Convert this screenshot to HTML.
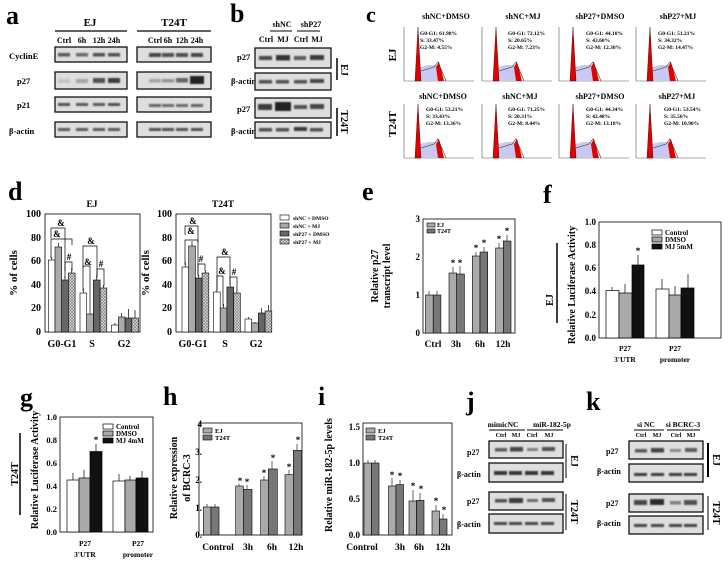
<!DOCTYPE html>
<html><head><meta charset="utf-8"><style>
html,body{margin:0;padding:0;background:#fff;}
svg{display:block;font-family:"Liberation Serif",serif;font-weight:bold;}
</style></head><body>
<svg width="728" height="561" viewBox="0 0 728 561" xmlns="http://www.w3.org/2000/svg">
<defs>
<filter id="bl" x="-20%" y="-50%" width="140%" height="200%"><feGaussianBlur stdDeviation="0.8"/></filter>
<pattern id="hatch" width="3" height="3" patternUnits="userSpaceOnUse"><rect width="3" height="3" fill="#ddd"/><path d="M0,0 L3,3 M3,0 L0,3" stroke="#777" stroke-width="0.6"/></pattern>
<g id="hist">
<line x1="0" y1="0" x2="0" y2="54" stroke="#555" stroke-width="0.6"/>
<line x1="0" y1="54" x2="70" y2="54" stroke="#555" stroke-width="0.6"/>
<polygon points="12,54 16,40 24,38 32,38 36,44 40,54" fill="#c8c8f0"/>
<polygon points="11,54 14,0 17,54" fill="#e00000" stroke="#300" stroke-width="0.4"/>
<polygon points="32,40 35,35 38,46 40,54 34,54" fill="#e00000"/>
<polyline points="17,44 30,40 34,35 37,42 42,54" fill="none" stroke="#333" stroke-width="0.6"/>
</g>
</defs>
<rect width="728" height="561" fill="#fff"/>

<!-- Panel a -->
<text x="6" y="24" font-size="26">a</text>
<text x="90" y="26" font-size="11" text-anchor="middle">EJ</text>
<line x1="55" y1="31" x2="127" y2="31" stroke="#000" stroke-width="1.2"/>
<text x="174" y="26" font-size="11" text-anchor="middle">T24T</text>
<line x1="137" y1="31" x2="211" y2="31" stroke="#000" stroke-width="1.2"/>
<g font-size="8" text-anchor="middle">
<text x="64" y="43">Ctrl</text><text x="82" y="43">6h</text><text x="99" y="43">12h</text><text x="114" y="43">24h</text>
<text x="155" y="43">Ctrl</text><text x="168" y="43">6h</text><text x="182" y="43">12h</text><text x="197" y="43">24h</text>
</g>
<g font-size="8.5">
<text x="9" y="59">CyclinE</text><text x="17" y="84">p27</text><text x="17" y="108">p21</text><text x="9" y="134">β-actin</text>
</g>
<g stroke="#111" stroke-width="1.3" fill="#dedede">
<rect x="55" y="47" width="72" height="15"/><rect x="55" y="72" width="72" height="17"/><rect x="55" y="97" width="72" height="15"/><rect x="55" y="122" width="72" height="15"/>
<rect x="137" y="47" width="74" height="15"/><rect x="137" y="72" width="74" height="17"/><rect x="137" y="97" width="74" height="15"/><rect x="137" y="122" width="74" height="15"/>
</g>
<g filter="url(#bl)" fill="#222">
<rect x="58" y="53" width="12" height="3.5" opacity="0.7"/><rect x="76" y="53" width="12" height="3.5" opacity="0.6"/><rect x="93" y="53" width="12" height="3.5" opacity="0.75"/><rect x="108" y="53" width="12" height="3.5" opacity="0.75"/>
<rect x="58" y="79" width="12" height="4" opacity="0.12"/><rect x="76" y="79" width="12" height="4" opacity="0.3"/><rect x="93" y="78" width="12" height="5" opacity="0.75"/><rect x="108" y="78" width="12" height="5" opacity="0.85"/>
<rect x="58" y="103" width="12" height="3" opacity="0.75"/><rect x="76" y="103" width="12" height="3" opacity="0.7"/><rect x="93" y="103" width="12" height="3" opacity="0.7"/><rect x="108" y="103" width="12" height="3" opacity="0.75"/>
<rect x="58" y="128" width="12" height="3" opacity="0.7"/><rect x="76" y="128" width="12" height="3" opacity="0.7"/><rect x="93" y="128" width="12" height="3" opacity="0.7"/><rect x="108" y="128" width="12" height="3" opacity="0.7"/>
<rect x="149" y="53" width="12" height="4" opacity="0.8"/><rect x="162" y="53" width="12" height="4" opacity="0.75"/><rect x="176" y="53" width="12" height="4" opacity="0.75"/><rect x="191" y="53" width="12" height="4" opacity="0.8"/>
<rect x="149" y="79" width="12" height="3.5" opacity="0.3"/><rect x="162" y="79" width="12" height="3.5" opacity="0.4"/><rect x="176" y="78" width="12" height="4.5" opacity="0.65"/><rect x="190" y="76" width="14" height="8" opacity="1"/>
<rect x="149" y="104" width="12" height="3" opacity="0.65"/><rect x="162" y="104" width="12" height="3" opacity="0.6"/><rect x="176" y="104" width="12" height="3" opacity="0.6"/><rect x="191" y="104" width="12" height="3" opacity="0.65"/>
<rect x="149" y="128" width="12" height="3" opacity="0.75"/><rect x="162" y="128" width="12" height="3" opacity="0.75"/><rect x="176" y="128" width="12" height="3" opacity="0.75"/><rect x="191" y="128" width="12" height="3" opacity="0.75"/>
</g>

<!-- Panel b -->
<text x="230" y="22" font-size="26">b</text>
<g font-size="8" text-anchor="middle">
<text x="282" y="27">shNC</text><text x="311" y="27">shP27</text>
<text x="266" y="42">Ctrl</text><text x="283" y="42">MJ</text><text x="301" y="42">Ctrl</text><text x="317" y="42">MJ</text>
</g>
<line x1="270" y1="31" x2="292" y2="31" stroke="#000"/><line x1="297" y1="31" x2="320" y2="31" stroke="#000"/>
<g font-size="8.5"><text x="237" y="60">p27</text><text x="231" y="84">β-actin</text><text x="237" y="112">p27</text><text x="231" y="134">β-actin</text></g>
<g stroke="#111" stroke-width="1.3" fill="#dedede">
<rect x="255" y="48" width="76" height="20"/><rect x="255" y="73" width="76" height="17"/><rect x="255" y="98" width="76" height="20"/><rect x="255" y="122" width="76" height="16"/>
</g>
<g filter="url(#bl)" fill="#222">
<rect x="259" y="56" width="13" height="4" opacity="0.8"/><rect x="276" y="55" width="14" height="5.5" opacity="0.9"/><rect x="294" y="56" width="12" height="4" opacity="0.7"/><rect x="310" y="55" width="14" height="5" opacity="0.85"/>
<rect x="259" y="80" width="13" height="3.5" opacity="0.75"/><rect x="276" y="80" width="13" height="3.5" opacity="0.75"/><rect x="294" y="80" width="13" height="3.5" opacity="0.75"/><rect x="310" y="79" width="14" height="4" opacity="0.8"/>
<rect x="258" y="104" width="14" height="6" opacity="0.85"/><rect x="275" y="102" width="16" height="9" opacity="1"/><rect x="294" y="105" width="13" height="4" opacity="0.75"/><rect x="310" y="104" width="14" height="5" opacity="0.8"/>
<rect x="259" y="128" width="13" height="3.5" opacity="0.75"/><rect x="276" y="128" width="13" height="3.5" opacity="0.75"/><rect x="294" y="127" width="13" height="4" opacity="0.85"/><rect x="310" y="128" width="13" height="3.5" opacity="0.75"/>
</g>
<line x1="337" y1="58" x2="337" y2="80" stroke="#000" stroke-width="1.5"/>
<text x="341" y="70" font-size="10" transform="rotate(90 341 70)" text-anchor="middle">EJ</text>
<line x1="337" y1="108" x2="337" y2="136" stroke="#000" stroke-width="1.5"/>
<text x="341" y="122" font-size="10" transform="rotate(90 341 122)" text-anchor="middle">T24T</text>

<!-- Panel c -->
<text x="366" y="22" font-size="22">c</text>
<g font-size="8" text-anchor="middle">
<text x="446" y="19">shNC+DMSO</text><text x="523" y="19">shNC+MJ</text><text x="600" y="19">shP27+DMSO</text><text x="678" y="19">shP27+MJ</text>
<text x="443" y="99">shNC+DMSO</text><text x="520" y="99">shNC+MJ</text><text x="600" y="99">shP27+DMSO</text><text x="677" y="99">shP27+MJ</text>
</g>
<text x="396" y="55" font-size="11" transform="rotate(-90 396 55)" text-anchor="middle">EJ</text>
<text x="396" y="124" font-size="11" transform="rotate(-90 396 124)" text-anchor="middle">T24T</text>
<use href="#hist" x="404" y="27"/><use href="#hist" x="482" y="27"/><use href="#hist" x="559" y="27"/><use href="#hist" x="636" y="27"/>
<use href="#hist" x="404" y="104"/><use href="#hist" x="482" y="104"/><use href="#hist" x="559" y="104"/><use href="#hist" x="636" y="104"/>
<g font-size="5.5">
<text x="420" y="35">G0-G1:  61.98%</text><text x="420" y="42">S:          33.47%</text><text x="420" y="49">G2-M:    4.55%</text>
<text x="508" y="35">G0-G1:  72.12%</text><text x="508" y="42">S:          20.65%</text><text x="508" y="49">G2-M:    7.23%</text>
<text x="586" y="35">G0-G1:  44.10%</text><text x="586" y="42">S:          43.60%</text><text x="586" y="49">G2-M:    12.30%</text>
<text x="658" y="35">G0-G1:  51.21%</text><text x="658" y="42">S:          34.32%</text><text x="658" y="49">G2-M:    14.47%</text>
<text x="426" y="111">G0-G1:  53.21%</text><text x="426" y="118">S:          33.43%</text><text x="426" y="125">G2-M:    13.36%</text>
<text x="508" y="111">G0-G1:  71.25%</text><text x="508" y="118">S:          20.31%</text><text x="508" y="125">G2-M:    8.44%</text>
<text x="586" y="111">G0-G1:  44.34%</text><text x="586" y="118">S:          42.48%</text><text x="586" y="125">G2-M:    13.18%</text>
<text x="664" y="111">G0-G1:  53.54%</text><text x="664" y="118">S:          35.56%</text><text x="664" y="125">G2-M:    10.90%</text>
</g>

<!-- Panel d -->
<text x="8" y="200" font-size="26">d</text>
<text x="92" y="207" font-size="9.5" text-anchor="middle">EJ</text>
<text x="223" y="207" font-size="9.5" text-anchor="middle">T24T</text>
<g stroke="#000" stroke-width="0.8">
<rect x="45" y="214" width="95" height="118" fill="none"/>
<rect x="176" y="214" width="95" height="118" fill="none"/>
</g>
<g font-size="10" text-anchor="end">
<text x="41" y="217">100</text><text x="41" y="241">80</text><text x="41" y="264">60</text><text x="41" y="288">40</text><text x="41" y="311">20</text><text x="41" y="335">0</text>
<text x="172" y="217">100</text><text x="172" y="241">80</text><text x="172" y="264">60</text><text x="172" y="288">40</text><text x="172" y="311">20</text><text x="172" y="335">0</text>
</g>
<text x="17" y="273" font-size="11" transform="rotate(-90 17 273)" text-anchor="middle">% of cells</text>
<text x="149" y="273" font-size="11" transform="rotate(-90 149 273)" text-anchor="middle">% of cells</text>
<g font-size="10" text-anchor="middle">
<text x="62" y="347">G0-G1</text><text x="92" y="347">S</text><text x="124" y="347">G2</text>
<text x="193" y="347">G0-G1</text><text x="225" y="347">S</text><text x="256" y="347">G2</text>
</g>
<g stroke="#000" stroke-width="0.6">
<rect x="48.3" y="260" width="6.7" height="72" fill="#fff"/><rect x="55" y="247" width="6.7" height="85" fill="#aaa"/><rect x="61.7" y="280" width="6.7" height="52" fill="#666"/><rect x="68.4" y="273" width="6.7" height="59" fill="url(#hatch)"/>
<rect x="80" y="293" width="6.7" height="39" fill="#fff"/><rect x="86.7" y="314" width="6.7" height="18" fill="#aaa"/><rect x="93.4" y="280" width="6.7" height="52" fill="#666"/><rect x="100.1" y="288" width="6.7" height="44" fill="url(#hatch)"/>
<rect x="111.7" y="325" width="6.7" height="7" fill="#fff"/><rect x="118.4" y="317" width="6.7" height="15" fill="#aaa"/><rect x="125.1" y="318" width="6.7" height="14" fill="#666"/><rect x="131.8" y="318" width="6.7" height="14" fill="url(#hatch)"/>
<rect x="182" y="267" width="6.7" height="65" fill="#fff"/><rect x="188.7" y="246" width="6.7" height="86" fill="#aaa"/><rect x="195.4" y="278" width="6.7" height="54" fill="#666"/><rect x="202.1" y="273" width="6.7" height="59" fill="url(#hatch)"/>
<rect x="213.5" y="292" width="6.7" height="40" fill="#fff"/><rect x="220.2" y="308" width="6.7" height="24" fill="#aaa"/><rect x="226.9" y="287" width="6.7" height="45" fill="#666"/><rect x="233.6" y="293" width="6.7" height="39" fill="url(#hatch)"/>
<rect x="245" y="319" width="6.7" height="13" fill="#fff"/><rect x="251.7" y="323" width="6.7" height="9" fill="#aaa"/><rect x="258.4" y="313" width="6.7" height="19" fill="#666"/><rect x="265.1" y="311" width="6.7" height="21" fill="url(#hatch)"/>
</g>
<g fill="none" stroke="#000" stroke-width="0.7">
<path d="M51.6,260 V257 M58.3,247 V243 M65,280 V276 M71.7,273 V268 M83.3,293 V288 M90,314 V312 M96.7,280 V275 M103.4,288 V285 M115,325 V323 M121.7,317 V313 M128.4,318 V309 M135,318 V310"/>
<path d="M185.3,267 V262 M192,246 V241 M198.7,278 V275 M205.4,273 V270 M216.8,292 V289 M223.5,308 V304 M230.2,287 V284 M236.9,293 V290 M248.3,319 V317 M255,323 V322 M261.7,313 V308 M268.4,311 V305"/>
<path d="M51,258 V239 H72 V245"/><path d="M51,238 V228 H65 V278"/><path d="M65,271 V262 H72 V271"/>
<path d="M83,291 V246 H97 V278"/><path d="M83,268 V266 H90 V312"/><path d="M97,276 V269 H104 V286"/>
<path d="M185,265 V240 H198 V243"/><path d="M185,235 V226 H198 V276"/><path d="M198,274 V264 H205 V271"/>
<path d="M217,290 V257 H230 V285"/><path d="M217,289 V276 H223 V306"/><path d="M230,285 V277 H237 V291"/>
</g>
<g font-size="9" text-anchor="middle">
<text x="61" y="226">&amp;</text><text x="57" y="237">&amp;</text><text x="69" y="260">#</text>
<text x="91" y="244">&amp;</text><text x="88" y="265">&amp;</text><text x="101" y="267">#</text>
<text x="193" y="224">&amp;</text><text x="191" y="234">&amp;</text><text x="201" y="262">#</text>
<text x="225" y="255">&amp;</text><text x="222" y="274">&amp;</text><text x="234" y="275">#</text>
</g>
<g font-size="5.5" stroke="#000" stroke-width="0.6">
<rect x="280" y="215" width="9" height="5" fill="#fff"/><rect x="280" y="223" width="9" height="5" fill="#aaa"/><rect x="280" y="231" width="9" height="5" fill="#666"/><rect x="280" y="239" width="9" height="5" fill="url(#hatch)"/>
</g>
<g font-size="5.5"><text x="293" y="220">shNC + DMSO</text><text x="293" y="228">shNC + MJ</text><text x="293" y="236">shP27 + DMSO</text><text x="293" y="244">shP27 + MJ</text></g>

<!-- Panel e -->
<text x="362" y="200" font-size="26">e</text>
<text x="378" y="276" font-size="10" transform="rotate(-90 378 276)" text-anchor="middle">Relative p27</text>
<text x="390" y="276" font-size="10" transform="rotate(-90 390 276)" text-anchor="middle">transcript level</text>
<rect x="423" y="219" width="92" height="114" fill="none" stroke="#000" stroke-width="0.8"/>
<g font-size="9" text-anchor="end"><text x="420" y="222">3</text><text x="420" y="260">2</text><text x="420" y="298">1</text><text x="420" y="336">0</text></g>
<g font-size="9.5" text-anchor="middle"><text x="433" y="347">Ctrl</text><text x="456" y="347">3h</text><text x="480" y="347">6h</text><text x="503" y="347">12h</text></g>
<g stroke="#000" stroke-width="0.6">
<rect x="425.5" y="295" width="7.7" height="38" fill="#aaa"/><rect x="433.2" y="295" width="7.7" height="38" fill="#777"/>
<rect x="449" y="273" width="7.7" height="60" fill="#aaa"/><rect x="456.7" y="274" width="7.7" height="59" fill="#777"/>
<rect x="472.3" y="256" width="7.7" height="77" fill="#aaa"/><rect x="480" y="252" width="7.7" height="81" fill="#777"/>
<rect x="495.6" y="248" width="7.7" height="85" fill="#aaa"/><rect x="503.3" y="241" width="7.7" height="92" fill="#777"/>
<path d="M429,295 V291 M437,295 V291 M453,273 V267 M460,274 V266 M476,256 V252 M484,252 V247 M499,248 V243 M507,241 V235" fill="none"/>
<rect x="427" y="223" width="8" height="4" fill="#aaa"/><rect x="427" y="229" width="8" height="4" fill="#777"/>
</g>
<g font-size="6"><text x="437" y="227">EJ</text><text x="437" y="233">T24T</text></g>
<g font-size="9" text-anchor="middle"><text x="453" y="266">*</text><text x="460" y="266">*</text><text x="476" y="251">*</text><text x="484" y="246">*</text><text x="499" y="242">*</text><text x="507" y="234">*</text></g>

<!-- Panel f -->
<text x="543" y="203" font-size="26">f</text>
<text x="553" y="300" font-size="10" transform="rotate(-90 553 300)" text-anchor="middle">EJ</text>
<line x1="557" y1="243" x2="557" y2="323" stroke="#000" stroke-width="1.5"/>
<text x="575" y="285" font-size="10" transform="rotate(-90 575 285)" text-anchor="middle">Relative Luciferase Activity</text>
<rect x="599" y="222" width="122" height="116" fill="none" stroke="#000" stroke-width="0.8"/>
<g font-size="9" text-anchor="end"><text x="596" y="225">1.0</text><text x="596" y="248">0.8</text><text x="596" y="271">0.6</text><text x="596" y="294">0.4</text><text x="596" y="318">0.2</text><text x="596" y="341">0.0</text></g>
<g stroke="#000" stroke-width="0.7">
<rect x="606" y="290.4" width="13" height="47.6" fill="#fff"/><rect x="619" y="293" width="13" height="45" fill="#aaa"/><rect x="632" y="265" width="12" height="73" fill="#111"/>
<rect x="656" y="289" width="13" height="49" fill="#fff"/><rect x="669" y="295" width="12" height="43" fill="#aaa"/><rect x="681" y="288" width="13" height="50" fill="#111"/>
<path d="M612,290 V287 M625,293 V284 M638,265 V255 M662,289 V279 M675,295 V286 M688,288 V274" fill="none"/>
<rect x="652" y="230" width="10" height="5" fill="#fff"/><rect x="652" y="237" width="10" height="5" fill="#aaa"/><rect x="652" y="244" width="10" height="5" fill="#111"/>
</g>
<g font-size="7"><text x="665" y="235">Control</text><text x="665" y="242">DMSO</text><text x="665" y="249">MJ  5mM</text></g>
<text x="638" y="254" font-size="9" text-anchor="middle">*</text>
<g font-size="7.5" text-anchor="middle"><text x="625" y="351">P27</text><text x="625" y="362">3'UTR</text><text x="675" y="351">P27</text><text x="675" y="362">promoter</text></g>

<!-- Panel g -->
<text x="20" y="406" font-size="26">g</text>
<text x="18" y="474" font-size="10" transform="rotate(-90 18 474)" text-anchor="middle">T24T</text>
<line x1="20" y1="433" x2="20" y2="515" stroke="#000" stroke-width="1.5"/>
<text x="38" y="470" font-size="10" transform="rotate(-90 38 470)" text-anchor="middle">Relative Luciferase Activity</text>
<rect x="60" y="417" width="93" height="115" fill="none" stroke="#000" stroke-width="0.8"/>
<g font-size="8.5" text-anchor="end"><text x="57" y="420">1.0</text><text x="57" y="443">0.8</text><text x="57" y="466">0.6</text><text x="57" y="489">0.4</text><text x="57" y="512">0.2</text><text x="57" y="535">0.0</text></g>
<g stroke="#000" stroke-width="0.7">
<rect x="67" y="480" width="12" height="52" fill="#fff"/><rect x="79" y="478" width="11" height="54" fill="#aaa"/><rect x="90" y="451.5" width="12" height="80.5" fill="#111"/>
<rect x="113" y="481" width="12" height="51" fill="#fff"/><rect x="125" y="480" width="11" height="52" fill="#aaa"/><rect x="136" y="478" width="12" height="54" fill="#111"/>
<path d="M73,480 V473 M84,478 V470 M96,451 V444 M119,481 V474 M130,480 V476 M142,478 V471" fill="none"/>
<rect x="103" y="424" width="10" height="5" fill="#fff"/><rect x="103" y="431" width="10" height="5" fill="#aaa"/><rect x="103" y="438" width="10" height="5" fill="#111"/>
</g>
<g font-size="7"><text x="116" y="429">Control</text><text x="116" y="436">DMSO</text><text x="116" y="443">MJ  4mM</text></g>
<text x="96" y="443" font-size="9" text-anchor="middle">*</text>
<g font-size="7.5" text-anchor="middle"><text x="85" y="546">P27</text><text x="85" y="557">3'UTR</text><text x="138" y="546">P27</text><text x="138" y="557">promoter</text></g>

<!-- Panel h -->
<text x="163" y="405" font-size="26">h</text>
<text x="177" y="478" font-size="10" transform="rotate(-90 177 478)" text-anchor="middle">Relative expression</text>
<text x="190" y="478" font-size="10" transform="rotate(-90 190 478)" text-anchor="middle">of BCRC-3</text>
<rect x="199" y="423" width="103" height="112" fill="none" stroke="#000" stroke-width="0.8"/>
<g font-size="9" text-anchor="end"><text x="202" y="427">4</text><text x="202" y="455">3.</text><text x="202" y="483">2.</text><text x="202" y="511">1.</text><text x="202" y="538">0.</text></g>
<g font-size="9.5" text-anchor="middle"><text x="218" y="550">Control</text><text x="248" y="550">3h</text><text x="272" y="550">6h</text><text x="296" y="550">12h</text></g>
<g stroke="#000" stroke-width="0.6">
<rect x="203.3" y="507" width="7.7" height="28" fill="#aaa"/><rect x="211" y="507" width="8" height="28" fill="#777"/>
<rect x="235.7" y="486" width="7.6" height="49" fill="#aaa"/><rect x="243.3" y="489.4" width="8.7" height="45.6" fill="#777"/>
<rect x="260.7" y="480" width="7.6" height="55" fill="#aaa"/><rect x="268.3" y="469" width="9" height="66" fill="#777"/>
<rect x="285" y="474.6" width="8.3" height="60.4" fill="#aaa"/><rect x="293.3" y="450.4" width="8.4" height="84.6" fill="#777"/>
<path d="M207,507 V504 M215,507 V504 M239,486 V484 M247,489 V485 M264,480 V476 M272,469 V461 M289,475 V470 M297,450 V444" fill="none"/>
<rect x="203" y="428" width="9" height="5" fill="#aaa"/><rect x="203" y="435" width="9" height="5" fill="#777"/>
</g>
<g font-size="6.5"><text x="215" y="433">EJ</text><text x="215" y="440">T24T</text></g>
<g font-size="9" text-anchor="middle"><text x="240" y="484">*</text><text x="247" y="485">*</text><text x="264" y="476">*</text><text x="273" y="461">*</text><text x="289" y="470">*</text><text x="298" y="443">*</text></g>

<!-- Panel i -->
<text x="318" y="405" font-size="26">i</text>
<text x="332" y="475" font-size="10" transform="rotate(-90 332 475)" text-anchor="middle">Relative miR-182-5p levels</text>
<rect x="363" y="423" width="89" height="112" fill="none" stroke="#000" stroke-width="0.8"/>
<g font-size="9" text-anchor="end"><text x="360" y="430">1.5</text><text x="360" y="466">1.0</text><text x="360" y="502">0.5</text><text x="360" y="538">0.0</text></g>
<g font-size="9.5" text-anchor="middle"><text x="362" y="550">Control</text><text x="400" y="550">3h</text><text x="419" y="550">6h</text><text x="443" y="550">12h</text></g>
<g stroke="#000" stroke-width="0.6">
<rect x="364" y="463" width="7.5" height="72" fill="#aaa"/><rect x="371.5" y="463" width="7.5" height="72" fill="#777"/>
<rect x="388.5" y="486" width="7.5" height="49" fill="#aaa"/><rect x="396" y="484.6" width="7.5" height="50.4" fill="#777"/>
<rect x="409" y="501" width="7.5" height="34" fill="#aaa"/><rect x="416.5" y="500.4" width="7.5" height="34.6" fill="#777"/>
<rect x="432" y="511" width="7.5" height="24" fill="#aaa"/><rect x="439.5" y="519" width="7.5" height="16" fill="#777"/>
<path d="M368,463 V460 M375,463 V460 M392,486 V478 M400,485 V480 M413,501 V490 M420,500 V493 M436,511 V505 M443,519 V514" fill="none"/>
<rect x="366" y="428" width="9" height="5" fill="#aaa"/><rect x="366" y="435" width="9" height="5" fill="#777"/>
</g>
<g font-size="6.5"><text x="378" y="433">EJ</text><text x="378" y="440">T24T</text></g>
<g font-size="9" text-anchor="middle"><text x="392" y="478">*</text><text x="400" y="479">*</text><text x="413" y="489">*</text><text x="421" y="492">*</text><text x="436" y="504">*</text><text x="444" y="513">*</text></g>

<!-- Panel j -->
<text x="466" y="410" font-size="26">j</text>
<g font-size="7.5" text-anchor="middle"><text x="503" y="427">mimicNC</text><text x="552" y="427">miR-182-5p</text></g>
<line x1="489" y1="430" x2="525" y2="430" stroke="#000"/><line x1="527" y1="430" x2="563" y2="430" stroke="#000"/>
<g font-size="6" text-anchor="middle"><text x="501" y="437">Ctrl</text><text x="516" y="437">MJ</text><text x="532" y="437">Ctrl</text><text x="549" y="437">MJ</text></g>
<g font-size="8"><text x="467" y="455">p27</text><text x="457" y="477">β-actin</text><text x="467" y="504">p27</text><text x="457" y="527">β-actin</text></g>
<g stroke="#111" stroke-width="1.3" fill="#dedede">
<rect x="489" y="441" width="74" height="17"/><rect x="489" y="463" width="74" height="19"/><rect x="489" y="492" width="74" height="18"/><rect x="489" y="514" width="74" height="19"/>
</g>
<g filter="url(#bl)" fill="#222">
<rect x="495" y="448" width="12" height="3.5" opacity="0.7"/><rect x="510" y="447" width="13" height="4.5" opacity="0.8"/><rect x="527" y="448" width="11" height="3" opacity="0.5"/><rect x="542" y="447" width="13" height="4" opacity="0.75"/>
<rect x="494" y="471" width="13" height="4" opacity="0.9"/><rect x="509" y="471" width="13" height="4" opacity="0.9"/><rect x="525" y="471" width="13" height="4" opacity="0.9"/><rect x="541" y="471" width="13" height="4" opacity="0.9"/>
<rect x="495" y="499" width="12" height="3.5" opacity="0.75"/><rect x="509" y="498" width="14" height="5" opacity="0.85"/><rect x="527" y="499" width="11" height="3" opacity="0.6"/><rect x="542" y="498" width="13" height="4" opacity="0.75"/>
<rect x="494" y="522" width="13" height="3" opacity="0.8"/><rect x="509" y="522" width="13" height="3" opacity="0.8"/><rect x="525" y="522" width="13" height="3" opacity="0.8"/><rect x="541" y="522" width="13" height="3" opacity="0.8"/>
</g>
<line x1="566" y1="444" x2="566" y2="478" stroke="#000" stroke-width="1"/>
<text x="571" y="461" font-size="10" transform="rotate(90 571 461)" text-anchor="middle">EJ</text>
<line x1="566" y1="494" x2="566" y2="530" stroke="#000" stroke-width="1"/>
<text x="571" y="512" font-size="10" transform="rotate(90 571 512)" text-anchor="middle">T24T</text>

<!-- Panel k -->
<text x="586" y="410" font-size="26">k</text>
<g font-size="7.5" text-anchor="middle"><text x="646" y="427">si NC</text><text x="683" y="427">si BCRC-3</text></g>
<line x1="634" y1="430" x2="664" y2="430" stroke="#000"/><line x1="667" y1="430" x2="700" y2="430" stroke="#000"/>
<g font-size="6" text-anchor="middle"><text x="641" y="437">Ctrl</text><text x="657" y="437">MJ</text><text x="676" y="437">Ctrl</text><text x="691" y="437">MJ</text></g>
<g font-size="8"><text x="606" y="454">p27</text><text x="597" y="474">β-actin</text><text x="606" y="506">p27</text><text x="597" y="526">β-actin</text></g>
<g stroke="#111" stroke-width="1.3" fill="#dedede">
<rect x="629" y="441" width="74" height="18"/><rect x="629" y="464" width="74" height="18"/><rect x="629" y="494" width="74" height="18"/><rect x="629" y="516" width="74" height="18"/>
</g>
<g filter="url(#bl)" fill="#222">
<rect x="635" y="449" width="12" height="3.5" opacity="0.7"/><rect x="651" y="448" width="13" height="4.5" opacity="0.8"/><rect x="670" y="449" width="11" height="3" opacity="0.45"/><rect x="685" y="448" width="12" height="4" opacity="0.7"/>
<rect x="634" y="473" width="13" height="3" opacity="0.85"/><rect x="651" y="473" width="13" height="3" opacity="0.85"/><rect x="669" y="473" width="13" height="3" opacity="0.85"/><rect x="684" y="473" width="13" height="3" opacity="0.85"/>
<rect x="634" y="500" width="13" height="5" opacity="0.8"/><rect x="650" y="499" width="14" height="6" opacity="0.95"/><rect x="670" y="501" width="11" height="3.5" opacity="0.5"/><rect x="684" y="500" width="13" height="5" opacity="0.75"/>
<rect x="634" y="524" width="13" height="3" opacity="0.8"/><rect x="651" y="524" width="13" height="3" opacity="0.8"/><rect x="669" y="524" width="13" height="3" opacity="0.8"/><rect x="684" y="524" width="13" height="3" opacity="0.8"/>
</g>
<line x1="708" y1="443" x2="708" y2="477" stroke="#000" stroke-width="2"/>
<text x="713" y="460" font-size="10" transform="rotate(90 713 460)" text-anchor="middle">EJ</text>
<line x1="708" y1="496" x2="708" y2="530" stroke="#000" stroke-width="1"/>
<text x="713" y="513" font-size="10" transform="rotate(90 713 513)" text-anchor="middle">T24T</text>
</svg>
</body></html>
